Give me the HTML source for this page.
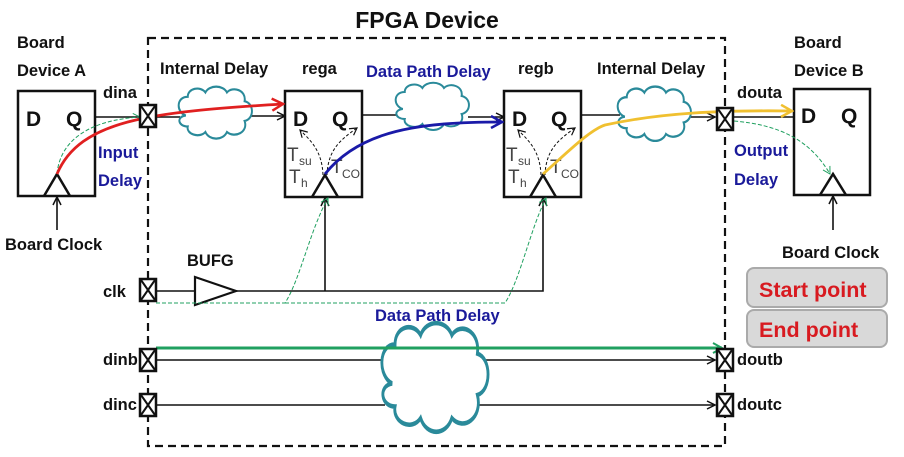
<!DOCTYPE html>
<html><head><meta charset="utf-8"><style>
html,body{margin:0;padding:0;background:#fff;}
svg{display:block;font-family:"Liberation Sans",sans-serif;}
.b{font-weight:bold;font-size:16.5px;fill:#111;}
.bl{font-weight:bold;font-size:16.5px;fill:#1a1a9a;}
.big{font-weight:bold;font-size:23px;fill:#111;}
.t{font-size:19px;fill:#444;}
.s{font-size:12px;fill:#444;}
</style></head><body>
<svg width="904" height="457" viewBox="0 0 904 457" xmlns="http://www.w3.org/2000/svg">
<defs>
<marker id="ak" markerWidth="10" markerHeight="10" refX="9" refY="5" orient="auto" markerUnits="userSpaceOnUse"><path d="M1,1 L9,5 L1,9" fill="none" stroke="#111" stroke-width="1.5"/></marker>
<marker id="ar" markerWidth="14" markerHeight="14" refX="12" refY="7" orient="auto" markerUnits="userSpaceOnUse"><path d="M1,1 L12,7 L1,13" fill="none" stroke="#e02020" stroke-width="2.5"/></marker>
<marker id="ab" markerWidth="14" markerHeight="14" refX="12" refY="7" orient="auto" markerUnits="userSpaceOnUse"><path d="M1,1 L12,7 L1,13" fill="none" stroke="#1a1aa8" stroke-width="2.5"/></marker>
<marker id="ay" markerWidth="14" markerHeight="14" refX="12" refY="7" orient="auto" markerUnits="userSpaceOnUse"><path d="M1,1 L12,7 L1,13" fill="none" stroke="#f0c030" stroke-width="2.5"/></marker>
<marker id="ag" markerWidth="12" markerHeight="12" refX="10" refY="6" orient="auto" markerUnits="userSpaceOnUse"><path d="M1,1 L10,6 L1,11" fill="none" stroke="#20a060" stroke-width="2"/></marker>
<marker id="agt" markerWidth="10" markerHeight="10" refX="8" refY="5" orient="auto" markerUnits="userSpaceOnUse"><path d="M1,1 L8,5 L1,9" fill="none" stroke="#20a060" stroke-width="1"/></marker>
<marker id="ad" markerWidth="10" markerHeight="10" refX="8" refY="5" orient="auto" markerUnits="userSpaceOnUse"><path d="M1,1 L8,5 L1,9" fill="none" stroke="#111" stroke-width="1.2"/></marker>
<g id="pad"><rect x="-8" y="-11" width="16" height="22" fill="#fff" stroke="#111" stroke-width="2.5"/><path d="M-7,-10 L7,10 M7,-10 L-7,10" stroke="#111" stroke-width="2"/></g>
<path id="cl" d="M10,25 C0,22 0,8 12,8 C12,0 25,-2 30,4 C34,-3 48,-3 52,4 C58,-2 72,2 70,12 C80,14 80,28 70,30 C74,40 60,46 52,40 C48,48 34,48 30,40 C24,46 10,42 12,35 C2,35 0,26 10,25 Z" fill="#fff" stroke="#2a8a9a" stroke-width="2"/>
</defs>
<text x="427" y="28" class="big" text-anchor="middle">FPGA Device</text>
<rect x="148" y="38" width="577" height="408" fill="none" stroke="#111" stroke-width="2.2" stroke-dasharray="8,5"/>
<text x="17" y="48" class="b">Board</text><text x="17" y="76" class="b">Device A</text>
<text x="160" y="74" class="b">Internal Delay</text>
<text x="302" y="74" class="b">rega</text>
<text x="366" y="77" class="bl">Data Path Delay</text>
<text x="518" y="74" class="b">regb</text>
<text x="597" y="74" class="b">Internal Delay</text>
<text x="794" y="48" class="b">Board</text><text x="794" y="76" class="b">Device B</text>
<text x="103" y="98" class="b">dina</text><text x="737" y="98" class="b">douta</text>
<text x="98" y="158" class="bl">Input</text><text x="98" y="186" class="bl">Delay</text>
<text x="734" y="156" class="bl">Output</text><text x="734" y="185" class="bl">Delay</text>
<text x="5" y="250" class="b">Board Clock</text><text x="782" y="258" class="b">Board Clock</text>
<text x="187" y="266" class="b">BUFG</text>
<text x="103" y="297" class="b">clk</text>
<text x="375" y="321" class="bl">Data Path Delay</text>
<text x="103" y="365" class="b">dinb</text><text x="103" y="410" class="b">dinc</text>
<text x="737" y="365" class="b">doutb</text><text x="737" y="410" class="b">doutc</text>
<g fill="#fff" stroke="#111" stroke-width="2.5">
<rect x="18" y="91" width="77" height="105"/>
<rect x="285" y="91" width="77" height="106"/>
<rect x="504" y="91" width="77" height="106"/>
<rect x="794" y="89" width="76" height="106"/>
</g>
<g fill="none" stroke="#111" stroke-width="2.5">
<path d="M44,196 L57,174 L70,196"/><path d="M312,197 L325,175 L338,197"/>
<path d="M530,197 L543,175 L556,197"/><path d="M820,195 L833,174 L846,195"/>
</g>
<g font-weight="bold" font-size="21" fill="#111">
<text x="26" y="126">D</text><text x="66" y="126">Q</text>
<text x="293" y="126">D</text><text x="332" y="126">Q</text>
<text x="512" y="126">D</text><text x="551" y="126">Q</text>
<text x="801" y="123">D</text><text x="841" y="123">Q</text>
</g>
<g><text x="287" y="161" class="t">T</text><text x="299" y="165" class="s">su</text>
<text x="289" y="183" class="t">T</text><text x="301" y="187" class="s">h</text>
<text x="331" y="173" class="t">T</text><text x="342" y="178" class="s">CO</text>
<text x="506" y="161" class="t">T</text><text x="518" y="165" class="s">su</text>
<text x="508" y="183" class="t">T</text><text x="520" y="187" class="s">h</text>
<text x="550" y="173" class="t">T</text><text x="561" y="178" class="s">CO</text></g>
<g fill="none" stroke="#111" stroke-width="1" stroke-dasharray="3,2">
<path d="M323,175 C322,150 310,140 300,130" marker-end="url(#ad)"/><path d="M327,175 C328,150 340,140 357,128" marker-end="url(#ad)"/>
<path d="M541,175 C540,150 528,140 518,130" marker-end="url(#ad)"/><path d="M545,175 C546,150 558,140 575,128" marker-end="url(#ad)"/>
</g>
<g fill="none" stroke="#111" stroke-width="1.6">
<path d="M95,117 L140,117"/><path d="M156,117 L180,117"/><path d="M250,116 L285,116" marker-end="url(#ak)"/>
<path d="M362,115 L397,115"/><path d="M468,117 L504,117" marker-end="url(#ak)"/>
<path d="M581,115 L620,115"/><path d="M690,117 L715,117" marker-end="url(#ak)"/><path d="M734,117 L794,117"/>
<path d="M57,230 L57,197" marker-end="url(#ak)"/><path d="M833,230 L833,196" marker-end="url(#ak)"/>
<path d="M156,291 L195,291"/><path d="M236,291 L543,291 L543,198" marker-end="url(#ak)"/><path d="M325,291 L325,198" marker-end="url(#ak)"/>
<path d="M156,360 L385,360"/><path d="M485,360 L715,360" marker-end="url(#ak)"/>
<path d="M156,405 L385,405"/><path d="M475,405 L715,405" marker-end="url(#ak)"/>
</g>
<path d="M195,277 L236,291 L195,305 Z" fill="#fff" stroke="#111" stroke-width="2.2"/>
<use href="#cl" transform="translate(176,88) scale(0.98,1.1)"/>
<use href="#cl" transform="translate(393,84) scale(0.98,1.0)"/>
<use href="#cl" transform="translate(615,88) scale(0.98,1.15)"/>
<use href="#cl" transform="translate(378,326) scale(1.42,2.3)"/>
<g fill="none" stroke="#20a060" stroke-width="1" stroke-dasharray="4,2">
<path d="M57,174 C60,140 90,120 140,117" marker-end="url(#agt)"/>
<path d="M156,303 L285,303 C300,280 310,230 328,198" marker-end="url(#agt)"/>
<path d="M285,303 L505,303 C520,280 530,230 546,198" marker-end="url(#agt)"/>
<path d="M734,121 C780,125 810,140 830,174" marker-end="url(#agt)"/>
</g>
<path d="M156,348 L722,348" stroke="#20a060" stroke-width="3" marker-end="url(#ag)"/>
<path d="M57,174 C80,120 150,112 283,104" fill="none" stroke="#e02020" stroke-width="2.8" marker-end="url(#ar)"/>
<path d="M325,174 C360,130 420,122 502,122" fill="none" stroke="#1a1aa8" stroke-width="2.8" marker-end="url(#ab)"/>
<path d="M543,174 C570,150 590,130 605,125 C660,113 720,110 792,111" fill="none" stroke="#f0c030" stroke-width="2.8" marker-end="url(#ay)"/>
<use href="#pad" transform="translate(148,116)"/>
<use href="#pad" transform="translate(725,119)"/>
<use href="#pad" transform="translate(148,290)"/>
<use href="#pad" transform="translate(148,360)"/>
<use href="#pad" transform="translate(148,405)"/>
<use href="#pad" transform="translate(725,360)"/>
<use href="#pad" transform="translate(725,405)"/>
<rect x="747" y="268" width="140" height="39" rx="7" fill="#d9d9d9" stroke="#aaa" stroke-width="2"/>
<rect x="747" y="310" width="140" height="37" rx="7" fill="#d9d9d9" stroke="#aaa" stroke-width="2"/>
<text x="759" y="297" font-weight="bold" font-size="21.5" fill="#d81a20">Start point</text>
<text x="759" y="337" font-weight="bold" font-size="21.5" fill="#d81a20">End point</text>
</svg>
</body></html>
